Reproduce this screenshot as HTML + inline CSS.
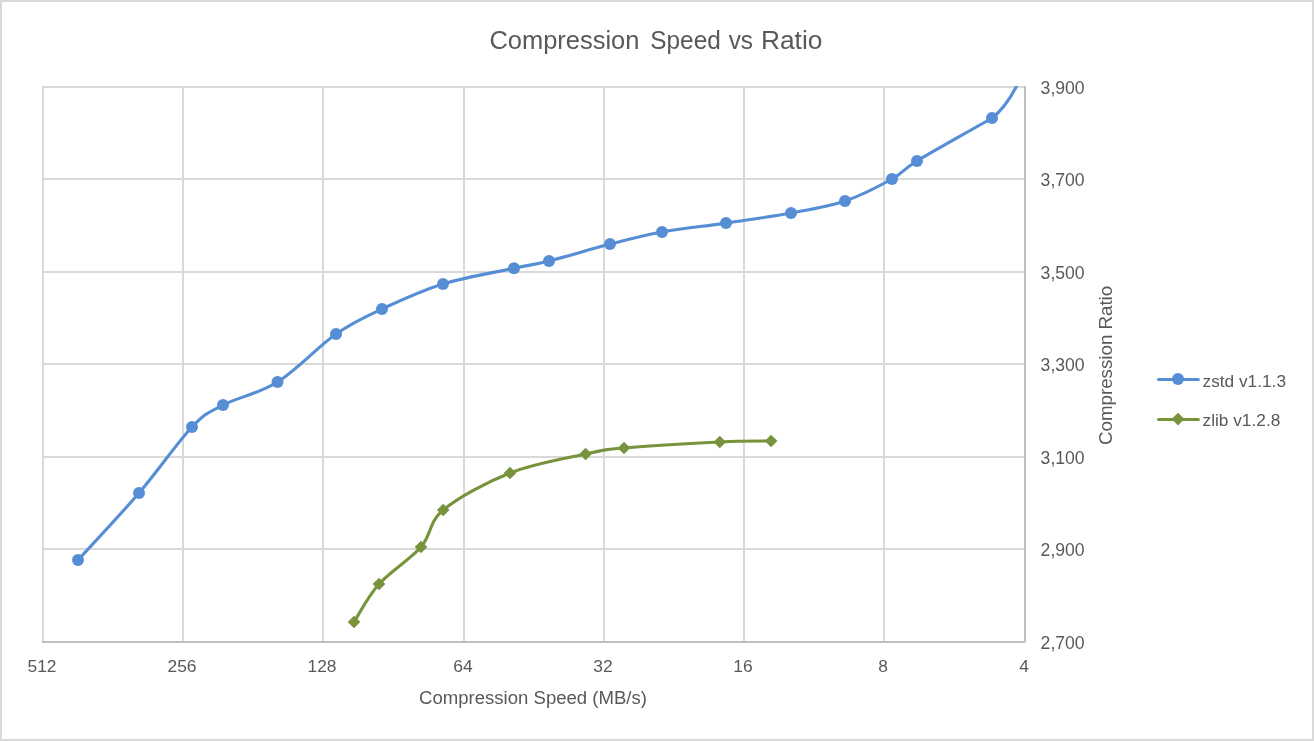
<!DOCTYPE html>
<html><head><meta charset="utf-8">
<style>
html,body{margin:0;padding:0;background:#fff;}
body{width:1314px;height:741px;overflow:hidden;position:relative;}
svg{position:absolute;left:0;top:0;will-change:transform;}
text{font-family:"Liberation Sans",sans-serif;fill:#595959;}
</style></head><body>
<svg width="1314" height="741" viewBox="0 0 1314 741">
<defs><clipPath id="pa"><rect x="42" y="86" width="984" height="557"/></clipPath></defs>
<rect x="0" y="0" width="1314" height="741" fill="#fff"/>
<rect x="1" y="1" width="1312" height="739" fill="none" stroke="#d9d9d9" stroke-width="2"/>
<rect x="42" y="86" width="2" height="556" fill="#d9d9d9"/>
<rect x="182" y="86" width="2" height="556" fill="#d9d9d9"/>
<rect x="322" y="86" width="2" height="556" fill="#d9d9d9"/>
<rect x="463" y="86" width="2" height="556" fill="#d9d9d9"/>
<rect x="603" y="86" width="2" height="556" fill="#d9d9d9"/>
<rect x="743" y="86" width="2" height="556" fill="#d9d9d9"/>
<rect x="883" y="86" width="2" height="556" fill="#d9d9d9"/>
<rect x="42" y="86" width="983" height="2" fill="#d9d9d9"/>
<rect x="42" y="178" width="983" height="2" fill="#d9d9d9"/>
<rect x="42" y="271" width="983" height="2" fill="#d9d9d9"/>
<rect x="42" y="363" width="983" height="2" fill="#d9d9d9"/>
<rect x="42" y="456" width="983" height="2" fill="#d9d9d9"/>
<rect x="42" y="548" width="983" height="2" fill="#d9d9d9"/>
<rect x="1024" y="86" width="2" height="556" fill="#bfbfbf"/>
<rect x="42" y="641" width="983" height="2" fill="#bfbfbf"/>
<g clip-path="url(#pa)">
<path d="M78.00,560.00 C88.17,548.83 120.00,515.17 139.00,493.00 C158.00,470.83 178.00,441.67 192.00,427.00 C206.00,412.33 208.75,412.50 223.00,405.00 C237.25,397.50 258.67,393.83 277.50,382.00 C296.33,370.17 318.58,346.17 336.00,334.00 C353.42,321.83 364.17,317.33 382.00,309.00 C399.83,300.67 421.00,290.78 443.00,284.00 C465.00,277.22 496.33,272.13 514.00,268.30 C531.67,264.47 533.00,265.03 549.00,261.00 C565.00,256.97 591.17,248.93 610.00,244.10 C628.83,239.27 642.67,235.50 662.00,232.00 C681.33,228.50 704.50,226.27 726.00,223.10 C747.50,219.93 771.17,216.68 791.00,213.00 C810.83,209.32 828.17,206.67 845.00,201.00 C861.83,195.33 880.00,185.67 892.00,179.00 C904.00,172.33 900.33,171.17 917.00,161.00 C933.67,150.83 975.00,128.00 992.00,118.00 C1007,106.5 1014.5,89.675 1016.6,86 L1022.5,76" fill="none" stroke="#558ed5" stroke-width="3.1" stroke-linecap="round" stroke-linejoin="round"/>
<path d="M354.00,622.00 C358.17,615.67 367.83,596.50 379.00,584.00 C390.17,571.50 410.30,559.33 421.00,547.00 C431.70,534.67 428.37,522.33 443.20,510.00 C458.03,497.67 486.27,482.33 510.00,473.00 C533.73,463.67 566.60,458.17 585.60,454.00 C604.60,449.83 601.63,450.00 624.00,448.00 C646.37,446.00 695.28,443.17 719.80,442.00 C744.32,440.83 762.55,441.17 771.10,441.00" fill="none" stroke="#77933c" stroke-width="3.1" stroke-linecap="round" stroke-linejoin="round"/>
<circle cx="78.00" cy="560.00" r="6.00" fill="#558ed5"/>
<circle cx="139.00" cy="493.00" r="6.00" fill="#558ed5"/>
<circle cx="192.00" cy="427.00" r="6.00" fill="#558ed5"/>
<circle cx="223.00" cy="405.00" r="6.00" fill="#558ed5"/>
<circle cx="277.50" cy="382.00" r="6.00" fill="#558ed5"/>
<circle cx="336.00" cy="334.00" r="6.00" fill="#558ed5"/>
<circle cx="382.00" cy="309.00" r="6.00" fill="#558ed5"/>
<circle cx="443.00" cy="284.00" r="6.00" fill="#558ed5"/>
<circle cx="514.00" cy="268.30" r="6.00" fill="#558ed5"/>
<circle cx="549.00" cy="261.00" r="6.00" fill="#558ed5"/>
<circle cx="610.00" cy="244.10" r="6.00" fill="#558ed5"/>
<circle cx="662.00" cy="232.00" r="6.00" fill="#558ed5"/>
<circle cx="726.00" cy="223.10" r="6.00" fill="#558ed5"/>
<circle cx="791.00" cy="213.00" r="6.00" fill="#558ed5"/>
<circle cx="845.00" cy="201.00" r="6.00" fill="#558ed5"/>
<circle cx="892.00" cy="179.00" r="6.00" fill="#558ed5"/>
<circle cx="917.00" cy="161.00" r="6.00" fill="#558ed5"/>
<circle cx="992.00" cy="118.00" r="6.00" fill="#558ed5"/>
<path d="M354.00,615.70 L360.30,622.00 L354.00,628.30 L347.70,622.00 Z" fill="#77933c"/>
<path d="M379.00,577.70 L385.30,584.00 L379.00,590.30 L372.70,584.00 Z" fill="#77933c"/>
<path d="M421.00,540.70 L427.30,547.00 L421.00,553.30 L414.70,547.00 Z" fill="#77933c"/>
<path d="M443.20,503.70 L449.50,510.00 L443.20,516.30 L436.90,510.00 Z" fill="#77933c"/>
<path d="M510.00,466.70 L516.30,473.00 L510.00,479.30 L503.70,473.00 Z" fill="#77933c"/>
<path d="M585.60,447.70 L591.90,454.00 L585.60,460.30 L579.30,454.00 Z" fill="#77933c"/>
<path d="M624.00,441.70 L630.30,448.00 L624.00,454.30 L617.70,448.00 Z" fill="#77933c"/>
<path d="M719.80,435.70 L726.10,442.00 L719.80,448.30 L713.50,442.00 Z" fill="#77933c"/>
<path d="M771.10,434.70 L777.40,441.00 L771.10,447.30 L764.80,441.00 Z" fill="#77933c"/>
</g>
<text x="489.4" y="49" font-size="26.4" textLength="150.0" lengthAdjust="spacingAndGlyphs">Compression</text>
<text x="650.3" y="49" font-size="26.4" textLength="70.5" lengthAdjust="spacingAndGlyphs">Speed</text>
<text x="728.7" y="49" font-size="26.4" textLength="24.3" lengthAdjust="spacingAndGlyphs">vs</text>
<text x="760.9" y="49" font-size="26.4" textLength="61.5" lengthAdjust="spacingAndGlyphs">Ratio</text>
<g font-size="17.4">
<text x="42.0" y="672" text-anchor="middle">512</text>
<text x="182.0" y="672" text-anchor="middle">256</text>
<text x="322.0" y="672" text-anchor="middle">128</text>
<text x="463.0" y="672" text-anchor="middle">64</text>
<text x="603.0" y="672" text-anchor="middle">32</text>
<text x="743.0" y="672" text-anchor="middle">16</text>
<text x="883.0" y="672" text-anchor="middle">8</text>
<text x="1024.0" y="672" text-anchor="middle">4</text>
</g>
<g font-size="17.6">
<text x="1040.6" y="94.1">3,900</text>
<text x="1040.6" y="186.1">3,700</text>
<text x="1040.6" y="279.1">3,500</text>
<text x="1040.6" y="371.1">3,300</text>
<text x="1040.6" y="464.1">3,100</text>
<text x="1040.6" y="556.1">2,900</text>
<text x="1040.6" y="649.1">2,700</text>
</g>
<text x="533" y="704" text-anchor="middle" font-size="18" textLength="228" lengthAdjust="spacingAndGlyphs">Compression Speed (MB/s)</text>
<text transform="translate(1112,365.4) rotate(-90)" x="0" y="0" text-anchor="middle" font-size="18.5" textLength="159.2" lengthAdjust="spacingAndGlyphs">Compression Ratio</text>
<line x1="1158.5" y1="379.5" x2="1198.4" y2="379.5" stroke="#558ed5" stroke-width="3" stroke-linecap="round"/>
<circle cx="1178" cy="379" r="6" fill="#558ed5"/>
<text x="1202.5" y="387" font-size="16.7" textLength="83.5" lengthAdjust="spacingAndGlyphs">zstd v1.1.3</text>
<line x1="1158.5" y1="419.5" x2="1198.4" y2="419.5" stroke="#77933c" stroke-width="3" stroke-linecap="round"/>
<path d="M1178.00,412.80 L1184.30,419.10 L1178.00,425.40 L1171.70,419.10 Z" fill="#77933c"/>
<text x="1202.5" y="426" font-size="16.7" textLength="77.8" lengthAdjust="spacingAndGlyphs">zlib v1.2.8</text>
</svg>
</body></html>
